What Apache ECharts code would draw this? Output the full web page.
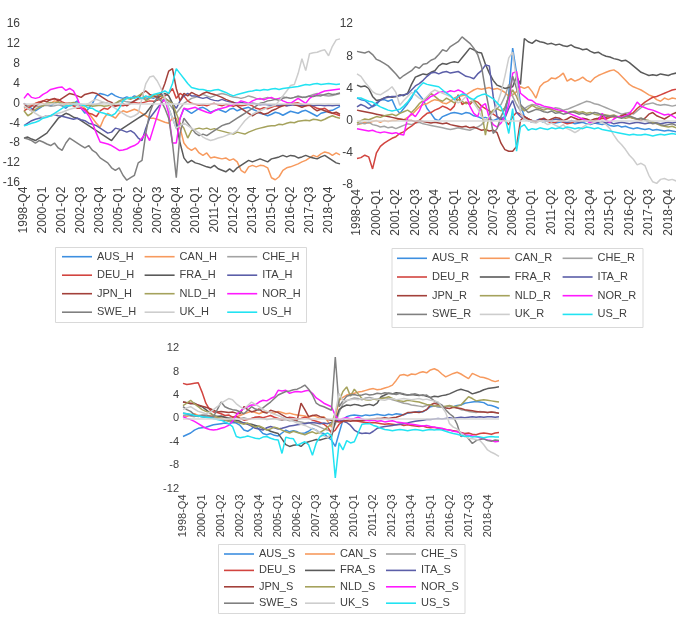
<!DOCTYPE html>
<html>
<head>
<meta charset="utf-8">
<title>Gaps H / R / S</title>
<script src="https://cdn.jsdelivr.net/npm/echarts@6/dist/echarts.min.js"></script>
<style>
  html, body { margin: 0; padding: 0; background: #fff; }
  #main { width: 676px; height: 622px; }
</style>
</head>
<body>
<div id="main"></div>
<script>
var quarters = [
  '1998-Q4',
  '1999-Q1','1999-Q2','1999-Q3','1999-Q4','2000-Q1','2000-Q2','2000-Q3','2000-Q4',
  '2001-Q1','2001-Q2','2001-Q3','2001-Q4','2002-Q1','2002-Q2','2002-Q3','2002-Q4',
  '2003-Q1','2003-Q2','2003-Q3','2003-Q4','2004-Q1','2004-Q2','2004-Q3','2004-Q4',
  '2005-Q1','2005-Q2','2005-Q3','2005-Q4','2006-Q1','2006-Q2','2006-Q3','2006-Q4',
  '2007-Q1','2007-Q2','2007-Q3','2007-Q4','2008-Q1','2008-Q2','2008-Q3','2008-Q4',
  '2009-Q1','2009-Q2','2009-Q3','2009-Q4','2010-Q1','2010-Q2','2010-Q3','2010-Q4',
  '2011-Q1','2011-Q2','2011-Q3','2011-Q4','2012-Q1','2012-Q2','2012-Q3','2012-Q4',
  '2013-Q1','2013-Q2','2013-Q3','2013-Q4','2014-Q1','2014-Q2','2014-Q3','2014-Q4',
  '2015-Q1','2015-Q2','2015-Q3','2015-Q4','2016-Q1','2016-Q2','2016-Q3','2016-Q4',
  '2017-Q1','2017-Q2','2017-Q3','2017-Q4','2018-Q1','2018-Q2','2018-Q3','2018-Q4',
  '2019-Q1','2019-Q2','2019-Q3'
];
var countries = ['AUS', 'CAN', 'CHE', 'DEU', 'FRA', 'ITA', 'JPN', 'NLD', 'NOR', 'SWE', 'UK', 'US'];
var colors = ['#3d8fe0', '#f79a5e', '#a3a3a3', '#d2443f', '#5a5a5a', '#5b5ea8',
              '#a3403a', '#a5a25c', '#ff1aff', '#808080', '#cdcdcd', '#22e3f2'];

// y axis ticks: [min, max, step]
var ticksH = [-16, 16, 4];
var ticksR = [-8, 12, 4];
var ticksS = [-12, 12, 4];

// ---- H ----
var AUS_H = [0,-0.5,-1,-1.5,-1,-0.5,0,-0.5,0,0.3, -0.5,-1,-0.3,0,0.5,-1,-2,-1,0,1.5, 2,1.8,1.5,2,1.5,1.2,1,1.3,1,1.5, 1.2,1,0.8,1.2,1,1.5,2,1,-1,-3,
  -5,-3,-1,-1.5,-2,-1.5,-1,-0.8,-1.2,-1.8, -1.5,-1.2,-1.5,-1.8,-1.2,-1,-1.5,-1.2,-1,-0.8, -1.2,-1.5,-2,-2.2,-2.5,-2.2,-1.8,-2,-2.4,-2, -1.6,-1.8,-2,-1.6,-1.4,-1.8,-2.2,-2.6,-2,-1.8, -1.5,-1.4,-1,-0.6];
var CAN_H = [-1,-0.5,-0.3,0,0.3,0,-0.3,0,0.5,0.3, 0,-0.3,-0.5,-0.3,0,-0.5,-1,-2,-3,-4, -4.8,-3,-2,-2.5,-3,-2,-1.5,-1.8,-1.5,-1.2, -1.5,-2,-2.5,-3,-3,-3.2,-3.5,-3.8,-4,-3,
  -3,-5,-8,-9,-9.5,-9,-10,-10.5,-10,-11, -10.8,-11,-11.2,-11,-11.5,-11.2,-11.8,-13.5,-14,-12.8, -12.5,-12.8,-12.5,-12.6,-13,-15,-15.4,-14.8,-13.5,-13, -12.8,-12.5,-12.2,-11.8,-11.5,-11,-10.5,-10.8,-10.2,-9.8, -10,-10.5,-10,-10.4];
var CHE_H = [-0.8,-0.6,-0.5,-0.7,-0.6,-0.5,-0.4,-0.6,-0.5,-0.3, -0.5,-0.6,-0.4,-0.5,-0.3,-0.2,-0.4,-0.5,-0.3,-0.2, 0,0.2,0,-0.2,0,0.3,0.5,0.3,0.2,0.5, 0.8,1,1.2,1.5,1.3,1,0.8,0.5,0,-1,
  -2,-1,0,0.5,1,1.2,1.5,1.8,1.5,1.2, 1.5,1.8,2,1.8,1.5,1.3,1.2,1,1.2,1.5, 1.3,1,0.8,1,1.2,1,0.8,1,1.3,1.2, 1,1.2,1.5,1.3,1.2,1.5,1.8,2,1.8,1.6, 1.5,1.6,1.8,2];
var DEU_H = [-1.5,-1,-0.5,0,0.3,0.5,0.8,0.7,0.9,0.8, 0.3,0,0,-0.5,-1,-1,-1.2,-2,-2.2,-2.7, -1.5,-1,-1.2,-0.5,-0.6,-0.4,-0.5,-0.3,0,0.2, 0,0.1,0.3,0.5,0.4,0.6,1,1.5,2,3,
  1,2,1.5,0.5,0,-0.2,-0.4,-0.3,-0.5,-0.2, 0,-0.3,-0.5,-0.2,-0.4,-0.6,-0.3,-0.5,-0.4,-0.2, -0.5,-1,-1.2,-0.9,-1.1,-0.8,-0.5,-0.6,-0.4,-0.5, -0.2,0,0.1,-0.2,-0.5,-0.4,-0.6,-1,-1.2,-1, -1.5,-2,-2.2,-2.5];
var FRA_H = [-7,-6.8,-7.2,-7.5,-7,-6.5,-6,-5,-4,-3, -2.5,-2,-2.3,-2.8,-3,-3.5,-4,-4.5,-5,-5.5, -6,-6.5,-7,-7.5,-6.5,-5.5,-5,-4.5,-4,-3.5, -3,-2.5,-2,-1,0,1,1.5,2,1.5,0,
  -4,-8,-11,-12,-11.5,-12,-12.2,-12.5,-12.8,-13, -12.5,-13.2,-13.5,-13.8,-13.2,-13.8,-13,-12.5,-12,-11.5, -11.8,-11.5,-11.2,-11.5,-11.8,-11.2,-11,-10.8,-10.5,-10.8, -10.5,-10.6,-11,-10.8,-10.5,-10.8,-11,-11.2,-10.8,-10.5, -11,-11.5,-12,-12.2];
var ITA_H = [-4.5,-4,-3.5,-3.2,-3,-2.8,-2.5,-2.5,-2.3,-2.5, -2.6,-2.8,-3,-3.2,-3,-3.3,-3.5,-4,-4.2,-4.5, -5,-5.5,-6,-5.8,-5,-5.2,-5.5,-5.8,-5.5,-6, -7,-7.5,-5,-3,-2,-1,0,1,0.5,0,
  -1,0.5,1.5,2,1.5,1.5,1.2,1,1.2,0.8, 0.6,0.5,0.8,0.5,0.3,0.2,0,0.2,0,-0.2, 0,-0.1,-0.3,-0.2,-0.3,-0.4,-0.3,-0.4,-0.3,-0.5, -0.4,-0.3,-0.4,-0.5,-0.4,-0.3,-0.5,-0.4,-0.4,-0.5, -0.4,-0.5,-0.4,-0.4];
var JPN_H = [0,-1,-1.5,-0.5,0,0.5,0.3,0.8,1,0.5, 1,1.5,2,1.8,1.5,1.2,1.8,2,2.2,2, 1.5,1,0.5,0.2,-0.5,-0.3,0,-0.5,0,0.5, 1,2,2.5,1.8,1.5,1.2,2,4,6.5,7,
  3,0.5,2,1.5,2.2,1.8,1.5,2,2.3,2, 1.8,1.5,1.2,0.8,0.5,0.2,-0.5,-1,-1.5,-2, -2.5,-2,-1.8,-2.2,-2,-1.5,-1.2,-0.8,-0.5,-0.2, 0,-0.3,-0.5,-0.8,-0.5,-0.3,-1,-1.5,-1.2,-1.5, -1.8,-2,-1.8,-2.2];
var NLD_H = [-1.5,-2.5,-2,-1.2,-0.8,-0.5,0,0.2,0,0.3, 0,-0.2,0,0.2,0,-0.3,-0.5,-0.3,-0.6,-0.5, -0.4,-0.6,-0.5,-0.3,0,0.5,0.8,1,0.8,1.2, 1.5,2,0.5,1,1.5,1.8,1.5,1,0.5,0,
  -2,-4,-5,-7,-5.5,-5.2,-5,-5.2,-5,-5.3, -5.1,-5.4,-5.6,-5.8,-6,-6.2,-5.8,-6,-6.2,-5.8, -5.5,-5.2,-5,-4.8,-4.6,-4.5,-4.5,-4.2,-4.3,-4, -3.8,-3.9,-3.6,-3.5,-3.4,-3.5,-3.2,-3.3,-3.5,-3.2, -2.8,-2.5,-2.8,-3];
var NOR_H = [1,2,1.2,1,1.2,1.8,2.2,2.8,3,3.2, 3.3,2.6,3,2.5,1,-1,-1.5,-2.5,-4,-6, -7.8,-8,-8.2,-8.5,-9,-9.5,-9.4,-9.2,-8.8,-8.5, -8,-7,-6,-7.5,-5,-2.5,0,0.8,-2,-8,
  -8,-3,-1,-1.2,-1,-0.8,-1.2,-1.5,-1.8,-2, -1.5,-1.2,-1,-0.8,-0.5,-0.2,0,0.5,0.3,0, 0.5,0.8,1,0.7,1,1.2,0.8,1,0.5,0.2, 0,0.5,1,0.5,0,1,1.5,1.8,2.2,2.5, 2.6,2.7,2.8,2.9];
var SWE_H = [-7,-7.2,-7.5,-8,-7.5,-7.8,-8.2,-8.5,-8,-9, -9.5,-8,-7,-7.5,-8,-8.5,-9,-8.5,-9.5,-10, -11,-11.5,-12,-13,-13.5,-13,-14.5,-15.5,-15,-14.5, -12,-11.5,-6,-2,0,1,0.5,-1,-3,-8,
  -15,-6,-3,-4,-5,-6,-6.5,-6.2,-6.5,-6, -5.5,-5,-4.5,-4.2,-4,-3.5,-3,-2.5,-2,-1.5, -1,-0.5,0,0.2,0.5,0.6,0.8,0.6,1,1.2, 1,1.2,1.4,1.2,1.3,1.5,1.4,1.6,1.5,1.8, 2,1.8,1.9,2.1];
var UK_H = [-0.5,-1,-1.5,-2,-2.5,-2.8,-2.5,-2.6,-2.3,-2, -1.8,-1.5,-1.2,-1,-0.8,-0.5,-0.3,0,0.5,0.8, 0.5,0.2,0,-0.5,-1,-1.5,-2,-2.5,-2.8,-2.5, -2,1,4,5.3,5.5,4.5,3,1,-1,-3,
  -5,-4.5,-4,-4.5,-5,-5.5,-6,-6.8,-7.2,-7.5, -7.3,-7,-6.8,-6.5,-6.2,-6,-5.5,-4.5,-3.5,-2.8, -2.2,-1.8,-1.5,-1.2,-0.8,-0.6,-0.4,0.5,1.5,2.5, 3.6,3.8,6,9,6.6,10,10.2,10.3,10.6,10.8, 9.6,11.5,12.8,13];
var US_H = [-4.5,-4.3,-4,-3.8,-3.5,-3,-2.8,-2.5,-2,-1.5, -1,-0.5,-0.5,-0.2,0,-0.3,-0.5,-1,-1,-1.5, -1.8,-2,-2.3,-2.5,-2,-1,0.5,1,1.2,1, 1.3,1,1.5,1.2,1.8,2,2.2,2.5,2,4,
  7,6,5,4,3.2,3,2.8,2.8,2.6,2.5, 2.7,2.8,2.5,2.2,1.8,1.5,1.8,2,2.2,2.4, 2.5,2.7,2.6,2.8,2.7,2.9,3,2.8,3,3.1, 3.2,3.3,3.4,3.6,3.8,3.7,3.9,4,3.8,3.9, 4,3.9,3.8,3.9];

// ---- R ----
var AUS_R = [2.8,2.6,2.5,2.1,1.7,2,2.6,2.6,2.4,2.6, 1.5,0.9,1.5,2.1,2.8,3.8,3.2,2.6,1.5,0.9, 0.2,0,0.5,0.7,0.9,1,0.9,0.8,1,0.9, 0.6,0.5,0.3,0.4,0.2,0,0.2,0.3,0.5,3.4,
  9,5.9,2,0.5,0.2,0,-0.1,0,-0.2,0, -0.1,-0.3,-0.2,-0.1,-0.3,-0.2,-0.4,-0.3,-0.2,-0.4, -0.5,-0.3,-0.4,-0.5,-0.4,-0.6,-0.7,-0.6,-0.8,-0.7, -0.9,-1,-0.9,-1,-1.1,-1,-1.2,-1.1,-1.2,-1.3, -1.2,-1.3,-1.4,-1.4];
var CAN_R = [-0.5,-0.4,-0.2,-0.3,-0.1,0,-0.2,0,-0.1,0, 0,0.2,0.1,0.4,0.7,1.2,1.7,2,2.1,2.4, 2.6,2.5,2.2,2.1,2.4,2.8,3,3.1,3.2,3.5, 3.8,4,3.9,4,4.1,3.9,4,3.8,3.5,3,
  3.2,3.6,4.2,4,4.2,3.6,2.8,4.2,4.7,4.9, 5.3,5.2,5.5,5.9,4.9,5.2,4.9,5.1,5.4,5, 4.8,5.3,5.6,5.8,6,6.2,6.3,6,5.5,5, 4.5,4.2,4,3.8,3.5,3.2,3,2.6,2.4,2.8, 2.6,2.8,2.7,2.9];
var CHE_R = [-0.5,-0.3,-0.4,-0.2,-0.5,-0.6,-0.8,-0.7,-0.9,-0.8, -1,-0.8,-0.6,-0.4,-0.5,-0.3,-0.2,-0.4,-0.5,-0.6, -0.7,-0.8,-0.9,-1,-1.1,-1,-0.9,-1,-1.1,-1.2, -1,-0.8,-0.5,0,0.5,1,1.5,2,3,4.5,
  3,2,1.2,1.5,1.8,2,1.9,1.7,1.6,1.5, 1.4,1.6,1.5,1.3,1.4,1.6,1.8,2,2.2,2.4, 2.3,2.1,2,1.8,1.6,1.4,1.2,1,0.8,0.9, 1,0.8,1.2,1.6,2,2.1,2.2,2,1.9,2, 1.9,1.8,1.9,1.8];
var DEU_R = [-4.7,-4.6,-4.3,-4.5,-6,-4,-3.2,-2.8,-2.5,-2.2, -2,-1.6,-1.4,-1,-0.7,-0.3,0,0.5,0.9,1, 1.3,1.5,1.8,1.6,1.3,1.8,3.2,2,2.3,2, 2.5,2.3,1.8,1.5,1.2,0.8,0.5,0.2,0,-0.5,
  0.5,1,0.8,0.5,0.2,0,-0.2,0,0.2,-0.1, -0.3,-0.2,0,-0.2,-0.4,-0.3,-0.1,0,0.2,0, -0.2,0,0.1,0.3,0.2,0.4,0.5,0.4,0.6,0.5, 0.7,1,1.5,1.9,2.3,2.6,2.9,3,3.2,3.4, 3.6,3.8,3.9,4.1];
var FRA_R = [4.4,4.2,4.3,4,3,2.5,2.6,2.8,3,2.9, 3,3.2,3.1,3.4,4.5,5.4,5.6,5.8,5.7,6, 6.2,6.8,7.1,7,7.2,7.3,7.2,7.8,8.4,9, 8.8,8.5,8.4,7,5.9,5,4.4,4.2,4,4.1,
  4.2,5.5,4.5,10.2,9.8,9.6,10,9.8,9.7,9.5, 9.6,9.4,9.5,9.3,9.2,9.4,9.1,9,8.8,8.9, 8.6,8.4,8.5,8.2,8,7.9,7.7,7.6,7.4,7.5, 7.2,6.8,6.4,6,5.8,5.6,5.7,5.6,5.8,5.7, 5.6,5.8,5.9,6];
var ITA_R = [1.7,2,1.8,1.5,1.8,2.2,2.5,2.8,2.9,3, 3,3.1,3.2,3.3,3.8,4.3,4.6,5,5.5,5.9, 6,5.8,6,6.1,5.9,6,6.1,5.8,5.5,5.4, 5.2,5.8,6.2,6.9,6.8,3,0.5,0.1,0.3,1.5,
  2.5,1,0.5,0.2,0,-0.2,0,0.2,0.1,-0.1, 0,0.2,0.1,-0.1,-0.2,0,-0.1,-0.2,-0.1,0, -0.2,-0.3,-0.2,-0.1,-0.3,-0.2,-0.4,-0.3,-0.2,-0.3, -0.4,-0.3,-0.2,-0.3,-0.4,-0.3,-0.2,-0.3,-0.4,-0.3, -0.2,-0.3,-0.2,-0.3];
var JPN_R = [1.3,1.2,1.1,1,0.9,0.8,0.7,0.6,0.5,0.4, 0.3,0.2,0.1,0,0,-0.1,0,-0.1,-0.2,-0.3, -0.2,-0.3,-0.4,-0.3,-0.5,-0.6,-0.7,-0.8,-0.7,-0.9, -0.8,-1,-1.2,-1.1,-1.3,-1.2,-1.5,-2.8,-3.6,-3.8,
  -3.8,-3.2,0,0.5,0.2,0,-0.2,0.1,0.3,0, 0.2,0.4,0.3,0,0.2,0.5,0.3,0.1,0.3,0.2, 0,0.2,0.3,0.5,0.4,0.6,0.5,0.4,0.6,0.8, 0.5,0.3,0.2,0,0.3,0.8,1,0.6,0.4,0.2, 0.5,0.8,1,1.2];
var NLD_R = [-0.3,0,0.2,0.1,0.3,0.5,0.4,0.6,0.7,0.8, 0.6,0.9,1.1,1.3,1,1.5,2.1,2.5,2.8,3.4, 3,2.6,2.4,2.8,2.5,2.2,2.6,2.4,2.1,2.3, 2.5,1.8,1.3,-1.8,0.8,1.3,1.5,1.2,1.6,3,
  3.8,3,1.8,1.2,1.5,1.9,1.6,1.5,1.3,1.5, 1.4,1.2,1.1,1.2,1,1.1,1.2,1,1.1,0.9, 1,0.8,0.7,0.8,0.7,0.6,0.7,0.5,0.4,0.3, 0.4,0.3,0.2,0.3,0.1,0,-0.2,-0.4,-0.6,-0.7, -0.8,-0.7,-0.9,-1];
var NOR_R = [-1,-1.1,-1.2,-1.3,-1.2,-1.4,-1.5,-1.4,-1.5,-1.6, -1.5,-1.7,-1.8,0.3,0.9,0.5,1.2,2.3,2.6,3, 3.2,3.5,3.6,3.5,3.7,3.6,3.8,3.6,3.2,1.8, 0.9,0.5,1.8,2.1,0.3,-0.5,-0.8,-0.3,0.5,2,
  5.9,6.1,3.4,3,2.6,2.5,2.1,2,1.8,1.7, 1.6,1.4,1.3,1.2,1,0.8,0.6,0.4,0.2,0, -0.3,-0.2,0,0.9,0,-0.2,0.2,0.5,0.4,0.6, 0.9,1.5,2.3,1.8,1.6,1.4,1.3,1.1,0.9,0.7, 0.8,0.6,0.3,0.2];
var SWE_R = [8.6,8.5,8.4,8.6,8.2,7.6,7.4,7.1,6.8,6.3, 5.8,5.2,5.6,5.9,6.2,6.7,6.5,7,7.1,7.5, 7.7,8.2,8.8,8.6,9.2,9.5,9.8,10.4,10,9.6, 9,8.2,6.7,3.8,1.3,-1.6,-1,0.5,1.5,3,
  5.5,4,2,1.5,1,1.2,1.4,1.3,1.1,1, 1.2,0.9,1,0.8,0.9,1.1,1,0.8,0.9,0.7, 0.8,1,0.9,0.7,0.6,0.5,0.6,0.4,0.3,0.5, 0.6,0.4,0.2,0.3,0.1,-0.2,-0.4,-0.3,-0.5,-0.6, -0.5,-0.4,-0.6,-0.5];
var UK_R = [5.8,5.5,4.8,4.2,3.6,3.3,3.2,3.5,3.8,4.2, 3.5,1.9,2.5,3,3.5,3.2,2.8,2.5,3,3.5, 3.8,3.6,3.4,3.2,3,2.6,2.2,2.5,3,2.8, 2.2,1.5,0.5,0,0.5,1,2,3.5,5.5,7.8,
  8.5,5,1,0.2,0,-0.2,-0.3,0,-0.2,-0.5, -0.3,-0.6,-0.8,-0.5,-1,-1.2,-1.5,-1.2,-0.8,-0.5, -0.4,-0.2,0,-0.3,-0.5,-1,-1.8,-2.5,-3,-3.6, -4.3,-4.8,-5.5,-5.3,-5.6,-6.8,-7.6,-7.8,-7.3,-7.2, -7.4,-7.3,-7.5,-7.4];
var US_R = [2.8,2.8,2.6,2.4,2.3,2,1.7,1.5,1.3,1.2, 1.3,1.4,1.8,2.3,3,3.6,4.2,4.7,4.5,4.4, 4.3,4.2,3.8,3.4,3.1,2.6,3,3.3,3.2,2.8, 2.6,3,3.2,3.3,3,2.7,2.2,1.7,0.5,-1.6,
  1.5,-3.8,-0.8,-0.5,-1.2,-1,-1.1,-0.9,-1,-1.1, -0.9,-1,-0.9,-1,-0.8,-0.9,-1,-0.9,-1,-0.8, -0.9,-1,-0.9,-1.1,-1.2,-1.3,-1.4,-1.5,-1.6,-1.7, -1.8,-1.7,-1.8,-1.8,-1.7,-1.8,-1.9,-1.8,-1.7,-1.8, -1.7,-1.6,-1.7,-1.6];

// ---- S ----
var AUS_S = [-3.1,-2.8,-2.5,-2,-1.7,-1.6,-1.5,-1.3,-1.1,-1, -0.9,-0.8,-0.9,-0.7,-0.8,-1.2,-2,-2.2,-1.8,-1.2, -1.9,-2.6,-2.8,-2.6,-2.9,-3,-2.5,-2,-2.3,-2.1, -2.3,-2.6,-2.5,-2.2,-1.7,-2,-2.5,-2.6,-3.2,-3.7,
  -4.8,-2.5,-0.3,0.3,0.5,0.6,0.5,0.4,0.6,0.5, 0.6,0.7,0.6,0.5,0.7,0.6,0.8,0.7,0.6,0.9, 1,1.1,1.2,1.1,1.5,2,2.1,2,1.9,2, 2.1,2,2.2,2.3,2.6,2.7,2.8,2.9,2.8,2.7, 2.3,2.2,2,1.7];
var CAN_S = [0.5,0.3,0.6,0.8,0.5,0.4,0.2,0.5,0.3,0, 0.2,0.1,-0.2,0,0.3,0.5,0.8,1,1.2,1, 0.8,1.1,1.2,1,0.9,1.2,1,0.8,0.9,0.7, 0.6,0.5,0.4,0.2,0.5,0.3,0,0.3,-0.5,-1.5,
  0,3.1,3.6,4,4.2,4.3,4.5,4.6,4.8,5, 5.1,4.9,5,5.2,5.4,5.7,6.5,7.4,7.5,7.3, 7.6,7.5,7.8,8,7.8,8.3,8.5,8.2,7.6,7.1, 7.4,7.7,7.9,7.6,7.2,6.8,7.7,7.4,7.1,7, 6.8,6.5,6.3,6.5];
var CHE_S = [0.5,0.6,0.4,0.3,0.5,0.6,0.4,0.3,0.2,0.4, 0.3,0.2,0.1,0.3,0.2,0,0.1,-0.1,0,0.2, 0.1,0,-0.2,-0.1,0,-0.2,-0.3,-0.2,-0.4,-0.3, -0.5,-0.6,-0.8,-0.7,-1,-1.2,-1.5,-1.8,-2,-2.2,
  -1,1,2.5,3,3.3,3.5,3.4,3.2,3.5,3.6, 3.4,3.3,3.5,3.6,3.4,3.2,3,2.8,2.6,2.5, 2.3,2.2,2.1,2,2.2,2.3,2.1,2,1.9,2, 2.1,2,1.8,1.5,1.4,1.2,1.1,1,1.2,1.1, 1,1.1,1,0.9];
var DEU_S = [6,5.8,5.9,6,6.1,4.5,2.6,1.5,1.1,1, 0.8,0.5,0.6,0.2,0.4,0,-0.3,-0.2,0,0.2, 0.3,0.1,0.3,0.5,0.2,0,-0.2,0,0.2,0.1, -0.1,0,0.2,0,-0.3,-0.5,-0.7,-1,-1.5,-2.5,
  -2,-1,-0.5,-0.3,-0.2,-0.4,-0.5,-0.6,-0.7,-0.8, -0.7,-0.8,-0.9,-1,-0.9,-1,-1.1,-1,-1.2,-1.1, -1.2,-1.3,-1.4,-1.3,-1.5,-1.6,-1.5,-1.7,-1.8,-1.9, -2,-2.1,-2.2,-2.4,-2.6,-2.5,-2.7,-2.8,-2.6,-2.5, -2.6,-2.7,-2.5,-2.4];
var FRA_S = [2.8,2.7,2.5,2.6,2.2,2,1.5,1,0.5,0.3, 0.4,0.2,0,-0.2,-0.3,-0.5,-0.8,-0.9,-1,-1.2, -1.4,-1.7,-1.9,-2.2,-2.4,-2.6,-3.5,-4.5,-4.8,-4.6, -4.5,-4.8,-4.2,-4,-3.8,-3.6,-3.7,-3.5,-3.3,-3.1,
  -0.5,1.5,2,2.3,2.2,2.4,2.3,2.1,2.3,2.4, 2.2,2.6,3.7,4,4.3,4.2,4.4,4.3,4.1,4, 4.1,4,3.9,4,3.8,3.6,3.8,3.7,3.9,4, 4.2,4.5,4.8,5,4.8,4.6,4.2,4.4,4.6,4.9, 5.1,5.2,5.3,5.4];
var ITA_S = [0.9,0.8,0.6,0.5,0.4,0.3,0.2,0.1,0,-0.1, -0.2,-0.3,-0.4,-0.5,-0.6,-0.7,-0.8,-1,-1.3,-1.7, -1.8,-2,-1.6,-1.4,-1.6,-1.8,-1.7,-1.5,-1.3,-1.2, -1.1,-1,-0.9,-0.8,-0.7,-0.8,-0.9,-0.8,-0.9,-0.7,
  -0.5,-0.3,-0.5,-0.7,-1.2,-2,-2.4,-2.6,-2.5,-2.6, -2.2,-1.7,-1.5,-1.4,-1.3,-1.2,-1.1,-1,-0.9,-0.8, -0.6,-0.5,-0.4,-0.3,-0.2,-0.2,-0.1,0,-0.1,0, 0.1,0,0.1,0.2,0.1,0.2,0.3,0.2,0.3,0.2, 0.3,0.3,0.2,0.3];
var JPN_S = [2.8,2.7,2.6,2.5,2.3,2.1,1.9,1.7,1.4,1.1, 1.2,1.1,1,1.1,0.9,0.8,2,1.5,1.1,1.3, 1.6,1.1,0.9,1.4,1.2,1,0.6,0.2,0,-0.2, -0.3,2.6,1.5,0.3,0.5,0.6,0.3,0.1,-0.2,-0.3,
  -0.5,-0.6,-0.5,-0.4,-0.5,-0.4,-0.3,-0.4,-0.3,-0.2, -0.1,0,0,0.1,0,0.1,0.2,0.4,0.7,1, 1,1.1,1,1.2,1.5,2.3,2.6,2.4,2,1.8, 1.7,1.9,1.8,1.7,1.5,1.4,1.3,1.2,1.1,1.1, 1,1.1,1,0.9];
var NLD_S = [2.2,2.6,3.1,2.5,2,1.5,1.2,1,0.5,0.2, 0,-0.3,-0.5,-0.3,-0.6,-0.8,-1,-0.8,-1.2,-1.5, -1.3,-1.6,-2,-1.8,-1.5,-1.7,-2,-2.3,-2.5,-2.2, -2.4,-2.6,-2.8,-2.5,-2.3,-2.6,-2.4,-2,-1.5,-1,
  1,3,4.6,5.4,3.8,5,4.2,3.4,3.2,3.1, 3.3,3.2,3.4,3.5,3.7,3.4,3.1,3,2.9,3.1, 3,2.9,2.8,2.6,2.4,2.3,2.1,2.2,2,2.1, 2.2,2,2.1,2.3,3,3.7,3.4,3,3.1,3.2, 3.1,3,2.9,2.8];
var NOR_S = [0.3,0,-0.2,-0.5,-0.9,-1.3,-1.7,-1.9,-2,-1.9, -1.7,-1.5,-1.2,-0.5,0.6,1.2,1.7,2,2.3,2.3, 2.8,3.1,3,3.4,3.7,4.8,4.7,4.8,4.3,4.5, 4.6,4.5,4.7,4.8,4.3,3.5,3.1,2.6,2.3,2,
  0.5,-0.3,0,0.1,-0.1,0,0.2,-0.1,-0.3,-0.4, -0.3,-0.5,-0.4,-0.6,-0.5,-0.4,-0.6,-0.7,-0.8,-0.9, -1,-1.1,-1.2,-1.3,-1.2,-1.4,-1.5,-1.6,-1.7,-1.9, -2,-2.2,-2.3,-2.5,-2.8,-2.9,-3,-3.1,-3.3,-3.5, -3.7,-3.8,-4,-3.9];
var SWE_S = [2,1.5,1.2,0.6,0.3,0.5,0.6,0.4,0.3,1.5, 2.8,2,1.7,1.5,1.4,1.1,0.8,1.4,2,1.6, 1.4,1.8,2.3,2.8,3.4,4,4.3,4.6,4.7,4.9, 5,5.3,5.7,5,4,2.6,2.2,2,1.7,1.4,
  10.5,2,3,3.8,4,4.1,3.9,4,4.2,4, 4.1,4.3,4.2,4.4,4.3,4.2,4.1,4.3,4.2,4, 4.1,4.2,4,3.9,4,3.5,3,2.6,2.3,1.5, 0.8,0.3,-1,-3.1,-2.8,-3.5,-4.3,-3.8,-3.6,-3.5, -3.8,-3.9,-3.7,-3.8];
var UK_S = [1.5,1.8,2,1.6,1.2,1,0.8,1,1.5,2, 2.6,3,3.4,3.2,2.5,2,1.6,2.2,2.8,2.4, 2,1.5,1.2,1,0.7,0.5,0.2,0,-0.3,-0.5, -0.8,-1,-1.2,-1.5,-1.8,-2,-2.5,-3,-3.3,-2.5,
  1,4.3,3,3.1,3.2,3.3,3.2,3.4,3.3,3.2, 3.4,3.3,3.2,3.1,3.3,3.4,3.2,3.3,3.4,3.3, 3.2,3.3,3.4,3.2,3.3,3.1,3,2.8,2,1, -0.9,-1.5,-1.8,-2.5,-3,-3.4,-3.5,-3.6,-3.8,-4.5, -5.4,-5.8,-6.1,-6.5];
var US_S = [0.9,0.8,0.7,0.5,0.4,0.3,0.2,0.1,0,-0.2, -0.3,-0.6,-0.9,-1.4,-3.1,-3.3,-3.2,-3,-3.2,-3.4, -3.5,-3.2,-3.1,-3.4,-3.6,-3.7,-6,-3.2,-3.4,-3.5, -4.6,-4.3,-4,-4.5,-6.3,-4.2,-3.1,-2.8,-2.5,-3,
  -10.2,-4.2,-5.4,-3.8,-4.2,-4,-2.5,-1,-0.9,-0.9, -1.2,-1.4,-1.7,-1.9,-2,-2.1,-2,-1.9,-2,-2.1, -2,-1.9,-2,-2.1,-2,-1.9,-2,-1.9,-2,-2.2, -2.4,-2.6,-2.7,-2.9,-3.1,-3,-3.2,-3.1,-3.2,-3.3, -3.2,-3.1,-3.2,-3.2];

var dataH = [AUS_H, CAN_H, CHE_H, DEU_H, FRA_H, ITA_H, JPN_H, NLD_H, NOR_H, SWE_H, UK_H, US_H];
var dataR = [AUS_R, CAN_R, CHE_R, DEU_R, FRA_R, ITA_R, JPN_R, NLD_R, NOR_R, SWE_R, UK_R, US_R];
var dataS = [AUS_S, CAN_S, CHE_S, DEU_S, FRA_S, ITA_S, JPN_S, NLD_S, NOR_S, SWE_S, UK_S, US_S];

var font = "'Liberation Sans', Arial, sans-serif";
var textColor = '#404040';

// one panel per grid: position + font size
var panels = [
  { suffix: '_H', data: dataH, ticks: ticksH, grid: { left: 24, top: 24, width: 316, height: 158.7 }, fs: 12, lblMargin: 4,
    legend: { left: 62, top: 249.7, pitch: 82.6, gap: 4.5 }, box: [55.5, 247.5, 251, 75] },
  { suffix: '_R', data: dataR, ticks: ticksR, grid: { left: 357, top: 24, width: 323, height: 161 }, fs: 12, lblMargin: 4,
    legend: { left: 397, top: 251.3, pitch: 82.8, gap: 4.7 }, box: [392, 248.5, 251, 79] },
  { suffix: '_S', data: dataS, ticks: ticksS, grid: { left: 183, top: 348.3, width: 316, height: 140.2 }, fs: 11, lblMargin: 6,
    legend: { left: 224, top: 547, pitch: 81, gap: 2.4 }, box: [218.5, 544.5, 246.5, 69] }
];

var grids = [], xAxes = [], yAxes = [], legends = [], series = [], boxes = [];
var legendCols = [[0, 3, 6, 9], [1, 4, 7, 10], [2, 5, 8, 11]];

panels.forEach(function (p, g) {
  grids.push({ left: p.grid.left, top: p.grid.top, width: p.grid.width, height: p.grid.height, outerBoundsMode: 'none', containLabel: false });
  xAxes.push({
    type: 'category', gridIndex: g, data: quarters, boundaryGap: false,
    axisLine: { show: false, onZero: false }, axisTick: { show: false }, splitLine: { show: false },
    axisLabel: { interval: 4, rotate: 90, margin: p.lblMargin, fontSize: p.fs, color: textColor, fontFamily: font }
  });
  yAxes.push({
    type: 'value', gridIndex: g, min: p.ticks[0], max: p.ticks[1], interval: p.ticks[2],
    axisLine: { show: false }, axisTick: { show: false }, splitLine: { show: false },
    axisLabel: { margin: 4, fontSize: p.fs, color: textColor, fontFamily: font }
  });
  legendCols.forEach(function (col, k) {
    legends.push({
      orient: 'vertical', left: p.legend.left + k * p.legend.pitch, top: p.legend.top,
      padding: 0, itemWidth: 30, itemHeight: 1.6, itemGap: p.legend.gap, icon: 'rect',
      selectedMode: false,
      textStyle: { fontSize: 11, color: textColor, fontFamily: font, lineHeight: 14 },
      data: col.map(function (i) { return countries[i] + p.suffix; })
    });
  });
  countries.forEach(function (c, i) {
    var s = {
      name: c + p.suffix, type: 'line', xAxisIndex: g, yAxisIndex: g,
      data: p.data[i], symbol: 'none', color: colors[i],
      lineStyle: { width: 1.5, color: colors[i] }
    };
    if (i === 0) {
      // horizontal axis line at zero, as in the original
      s.markLine = {
        silent: true, symbol: 'none', label: { show: false },
        lineStyle: { color: '#d9d9d9', width: 1.5, type: 'solid' },
        data: [{ yAxis: 0 }]
      };
    }
    series.push(s);
  });
  boxes.push({
    type: 'rect', silent: true,
    shape: { x: p.box[0], y: p.box[1], width: p.box[2], height: p.box[3] },
    style: { fill: 'none', stroke: '#d9d9d9', lineWidth: 1 }
  });
});

var myChart = echarts.init(document.getElementById('main'));
myChart.setOption({
  animation: false,
  backgroundColor: '#fff',
  grid: grids,
  xAxis: xAxes,
  yAxis: yAxes,
  legend: legends,
  graphic: boxes,
  series: series
});
</script>
</body>
</html>
